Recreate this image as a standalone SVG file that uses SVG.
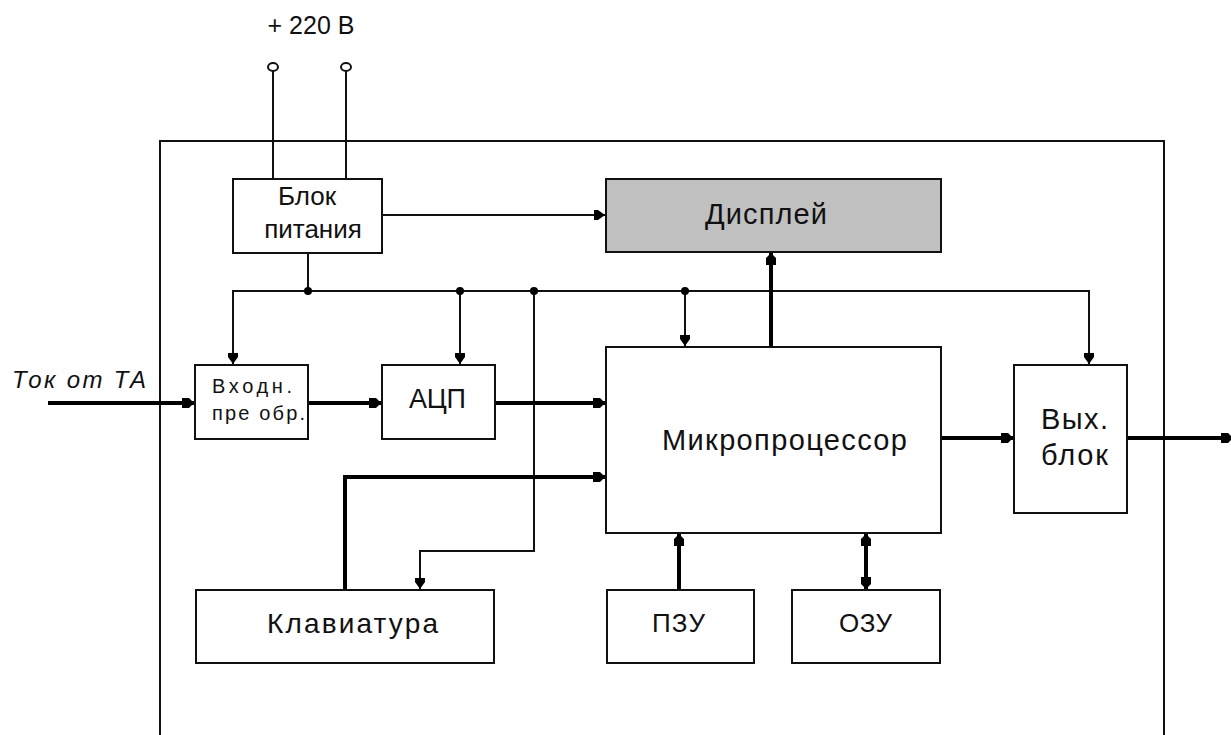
<svg xmlns="http://www.w3.org/2000/svg" width="1231" height="735" viewBox="0 0 1231 735">
<style>
  .box{fill:#fff;stroke:#111;stroke-width:2}
  .disp{fill:#c0c0c0;stroke:#111;stroke-width:2}
  .thin{fill:none;stroke:#111;stroke-width:2}
  .thick{fill:none;stroke:#000;stroke-width:4}
  .t{font-family:"Liberation Sans",Arial,sans-serif;fill:#111}
  .dot{fill:#000}
</style>
<defs>
  <marker id="ah" markerUnits="userSpaceOnUse" viewBox="-12 -6 13 12" refX="0" refY="0" markerWidth="13" markerHeight="12" orient="auto-start-reverse">
    <path d="M-12,-5 L-5,-5 L0,0 L-5,5 L-12,5 Z" fill="#000"/>
  </marker>
  <marker id="at" markerUnits="userSpaceOnUse" viewBox="-11 -6 12 12" refX="0" refY="0" markerWidth="12" markerHeight="12" orient="auto-start-reverse">
    <path d="M-11,-5 L-7,-5 L0,0 L-7,5 L-11,5 Z" fill="#000"/>
  </marker>
</defs>
<rect width="1231" height="735" fill="#fff"/>

<!-- frame -->
<path class="thin" d="M160,735 V141 H1164 V735"/>

<g id="supply-label">
  <text class="t" x="311" y="34" font-size="25" text-anchor="middle">+ 220 В</text>
  <ellipse cx="273" cy="67" rx="5" ry="4" fill="#fff" stroke="#111" stroke-width="2"/>
  <ellipse cx="346" cy="67" rx="5" ry="4" fill="#fff" stroke="#111" stroke-width="2"/>
</g>

<g id="connectors">
  <!-- mains -->
  <path class="thin" d="M273,71 V179"/>
  <path class="thin" d="M346,71 V179"/>
  <!-- power to display -->
  <path class="thin" d="M382,215 H605" marker-end="url(#at)"/>
  <!-- power bus -->
  <path class="thin" d="M308,253 V291"/>
  <path class="thin" d="M233,364 V291 H1089 V364" marker-start="url(#at)" marker-end="url(#at)"/>
  <path class="thin" d="M460,291 V364" marker-end="url(#at)"/>
  <path class="thin" d="M685,291 V346" marker-end="url(#at)"/>
  <path class="thin" d="M534,291 V551 H420 V589" marker-end="url(#at)"/>
  <circle class="dot" cx="308" cy="291" r="4"/>
  <circle class="dot" cx="460" cy="291" r="4"/>
  <circle class="dot" cx="534" cy="291" r="4"/>
  <circle class="dot" cx="685" cy="291" r="4"/>
  <!-- signal path -->
  <path class="thick" d="M48,403 H194" marker-end="url(#ah)"/>
  <path class="thick" d="M308,403 H381" marker-end="url(#ah)"/>
  <path class="thick" d="M495,403 H605" marker-end="url(#ah)"/>
  <path class="thick" d="M345,590 V477 H605" marker-end="url(#ah)"/>
  <path class="thick" d="M771,347 V253" marker-end="url(#ah)"/>
  <path class="thick" d="M679,590 V534" marker-end="url(#ah)"/>
  <path class="thick" d="M866,534 V589" marker-start="url(#ah)" marker-end="url(#ah)"/>
  <path class="thick" d="M941,438 H1013" marker-end="url(#ah)"/>
  <path class="thick" d="M1127,438 H1233" marker-end="url(#ah)"/>
</g>

<g id="input-label">
  <text class="t" x="12" y="388" font-size="24" font-style="italic" textLength="134" lengthAdjust="spacing">Ток от ТА</text>
</g>

<g id="power">
  <rect class="box" x="233" y="179" width="149" height="74"/>
  <text class="t" x="307" y="205" font-size="26" text-anchor="middle">Блок</text>
  <text class="t" x="313" y="238" font-size="26" text-anchor="middle">питания</text>
</g>

<g id="display">
  <rect class="disp" x="606" y="179" width="335" height="73"/>
  <text class="t" x="705" y="224" font-size="29" textLength="122" lengthAdjust="spacing">Дисплей</text>
</g>

<g id="input-conv">
  <rect class="box" x="195" y="365" width="113" height="74"/>
  <text class="t" x="212" y="393" font-size="20" textLength="80" lengthAdjust="spacing">Входн.</text>
  <text class="t" x="212" y="420" font-size="20" textLength="93" lengthAdjust="spacing">пре обр.</text>
</g>

<g id="adc">
  <rect class="box" x="382" y="365" width="113" height="74"/>
  <text class="t" x="409" y="408" font-size="27" textLength="57" lengthAdjust="spacing">АЦП</text>
</g>

<g id="cpu">
  <rect class="box" x="606" y="347" width="335" height="186"/>
  <text class="t" x="662" y="450" font-size="29" textLength="245" lengthAdjust="spacing">Микропроцессор</text>
</g>

<g id="output">
  <rect class="box" x="1014" y="365" width="113" height="148"/>
  <text class="t" x="1041" y="429" font-size="29" textLength="67" lengthAdjust="spacing">Вых.</text>
  <text class="t" x="1041" y="465" font-size="29" textLength="67" lengthAdjust="spacing">блок</text>
</g>

<g id="keyboard">
  <rect class="box" x="196" y="590" width="298" height="73"/>
  <text class="t" x="267" y="633" font-size="28" textLength="171" lengthAdjust="spacing">Клавиатура</text>
</g>

<g id="rom">
  <rect class="box" x="607" y="590" width="147" height="73"/>
  <text class="t" x="652" y="632" font-size="26" textLength="53" lengthAdjust="spacing">ПЗУ</text>
</g>

<g id="ram">
  <rect class="box" x="792" y="590" width="148" height="73"/>
  <text class="t" x="839" y="632" font-size="26" textLength="53" lengthAdjust="spacing">ОЗУ</text>
</g>
</svg>
